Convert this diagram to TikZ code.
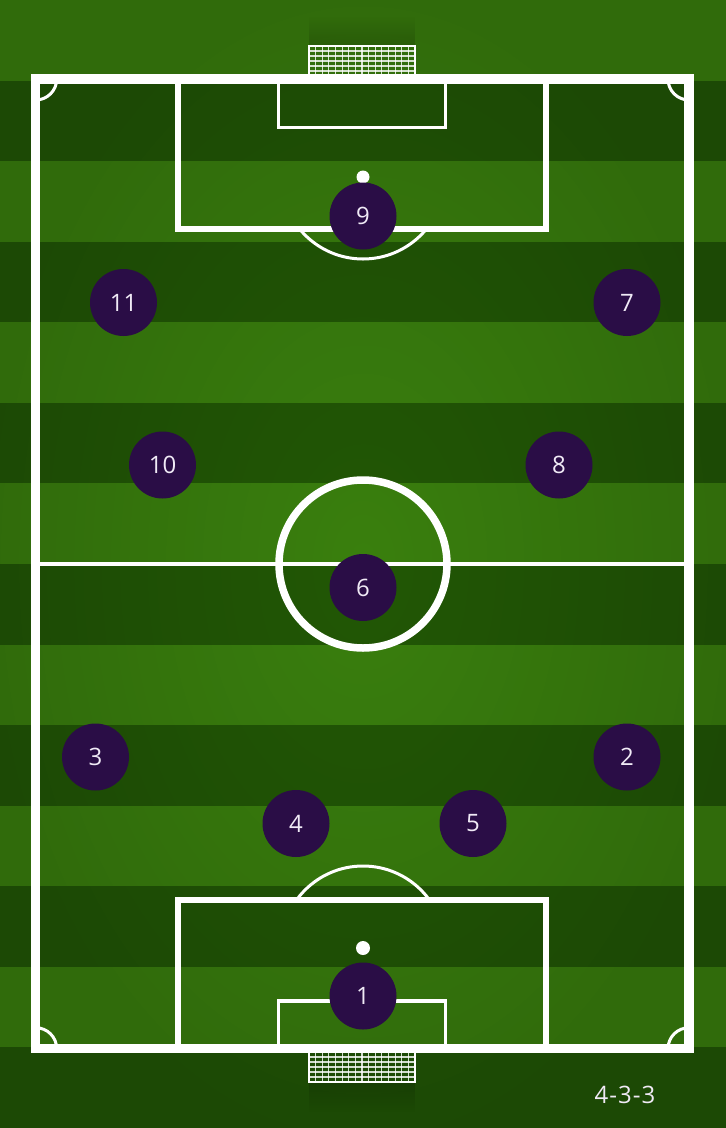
\documentclass[tikz,border=0pt]{standalone}
\usepackage{fontspec}
\setmainfont{Open Sans}
\usetikzlibrary{fadings}
\definecolor{grasslight}{RGB}{58,128,14}
\definecolor{grassdark}{RGB}{34,88,6}
\definecolor{playerc}{RGB}{42,13,70}
\definecolor{numc}{RGB}{240,234,246}
\tikzfading[name=vig, inner color=transparent!100, outer color=transparent!84]
\tikzfading[name=fadeup, top color=transparent!100, bottom color=transparent!84]
\tikzfading[name=fadedown, top color=transparent!84, bottom color=transparent!100]
\begin{document}
\begin{tikzpicture}[x=1pt,y=-1pt,
  pitchline/.style={draw=white, line join=miter},
  netline/.style={draw=white, opacity=0.8, line width=1.1pt},
  player/.style={circle, fill=playerc, minimum size=67pt, inner sep=0pt, text=numc, font=\fontsize{24}{24}\selectfont},
  formlabel/.style={text=numc, font=\fontsize{24}{24}\selectfont, inner sep=0pt}]
\useasboundingbox (0,0) rectangle (726,1128);
% stripes
\foreach \i in {0,2,...,12} \fill[grasslight] (-2,{\i*80.5714}) rectangle (728,{(\i+1)*80.5714});
\foreach \i in {1,3,...,13} \fill[grassdark] (-2,{\i*80.5714}) rectangle (728,{(\i+1)*80.5714});
% vignette
\fill[black, path fading=vig, fit fading=true] (-10,-10) rectangle (736,1138);
% goal shadows
\fill[black, path fading=fadeup, fit fading=true] (309,16) rectangle (415,46);
\fill[black, path fading=fadedown, fit fading=true] (309,1082) rectangle (415,1112);
% top goal net
\foreach \k in {1,...,15} \draw[netline] ({309+\k*6.625},46) -- ({309+\k*6.625},75);
\foreach \yy in {51,56,61,66,71} \draw[netline] (309,\yy) -- (415,\yy);
\draw[pitchline, line width=2pt] (309,75) -- (309,46) -- (415,46) -- (415,75);
% bottom goal net
\foreach \k in {1,...,15} \draw[netline] ({309+\k*6.625},1053) -- ({309+\k*6.625},1082);
\foreach \yy in {1057,1062,1067,1072,1077} \draw[netline] (309,\yy) -- (415,\yy);
\draw[pitchline, line width=2pt] (309,1053) -- (309,1082) -- (415,1082) -- (415,1053);
% corner arcs
\begin{scope}
\clip (35.7,79) rectangle (689,1048.7);
\draw[pitchline, line width=3pt] (35.7,79) circle (21pt);
\draw[pitchline, line width=3pt] (689,79) circle (21pt);
\draw[pitchline, line width=3pt] (35.7,1048.7) circle (21pt);
\draw[pitchline, line width=3pt] (689,1048.7) circle (21pt);
\end{scope}
% penalty arcs
\begin{scope}
\clip (0,228.5) rectangle (726,300);
\draw[pitchline, line width=3pt] (363,177) circle (82pt);
\end{scope}
\begin{scope}
\clip (0,830) rectangle (726,900);
\draw[pitchline, line width=3pt] (363,948) circle (82pt);
\end{scope}
% boxes
\draw[pitchline, line width=6pt] (177.5,79) -- (177.5,228.5) -- (546,228.5) -- (546,79);
\draw[pitchline, line width=6pt] (177.5,1048.7) -- (177.5,900) -- (546,900) -- (546,1048.7);
\draw[pitchline, line width=3.5pt] (278.5,79) -- (278.5,127.5) -- (445.5,127.5) -- (445.5,79);
\draw[pitchline, line width=3.5pt] (278.5,1048.7) -- (278.5,1001) -- (445.5,1001) -- (445.5,1048.7);
% halfway line and centre circle
\draw[pitchline, line width=4pt] (35.7,564) -- (689,564);
\draw[pitchline, line width=7.5pt] (363,564) circle (84pt);
% outer boundary
\draw[pitchline, line width=9.5pt] (35.7,79) rectangle (689,1048.7);
% penalty spots
\fill[white] (363,177) circle (6.5pt);
\fill[white] (363,948) circle (7pt);
% players
\node[player] (p9) at (363,216) {9};
\node[player] (p11) at (123.5,302.5) {11};
\node[player] (p7) at (627,302.5) {7};
\node[player] (p10) at (162.5,465) {10};
\node[player] (p8) at (559,465) {8};
\node[player] (p6) at (363,587.5) {6};
\node[player] (p3) at (95.5,757) {3};
\node[player] (p2) at (627,757) {2};
\node[player] (p4) at (296,823.5) {4};
\node[player] (p5) at (473,823.5) {5};
\node[player] (p1) at (363,996) {1};
% formation label
\node[formlabel] (formation) at (625,1095) {4\kern1pt-\kern1pt3\kern1pt-\kern1pt3};
\end{tikzpicture}
\end{document}
